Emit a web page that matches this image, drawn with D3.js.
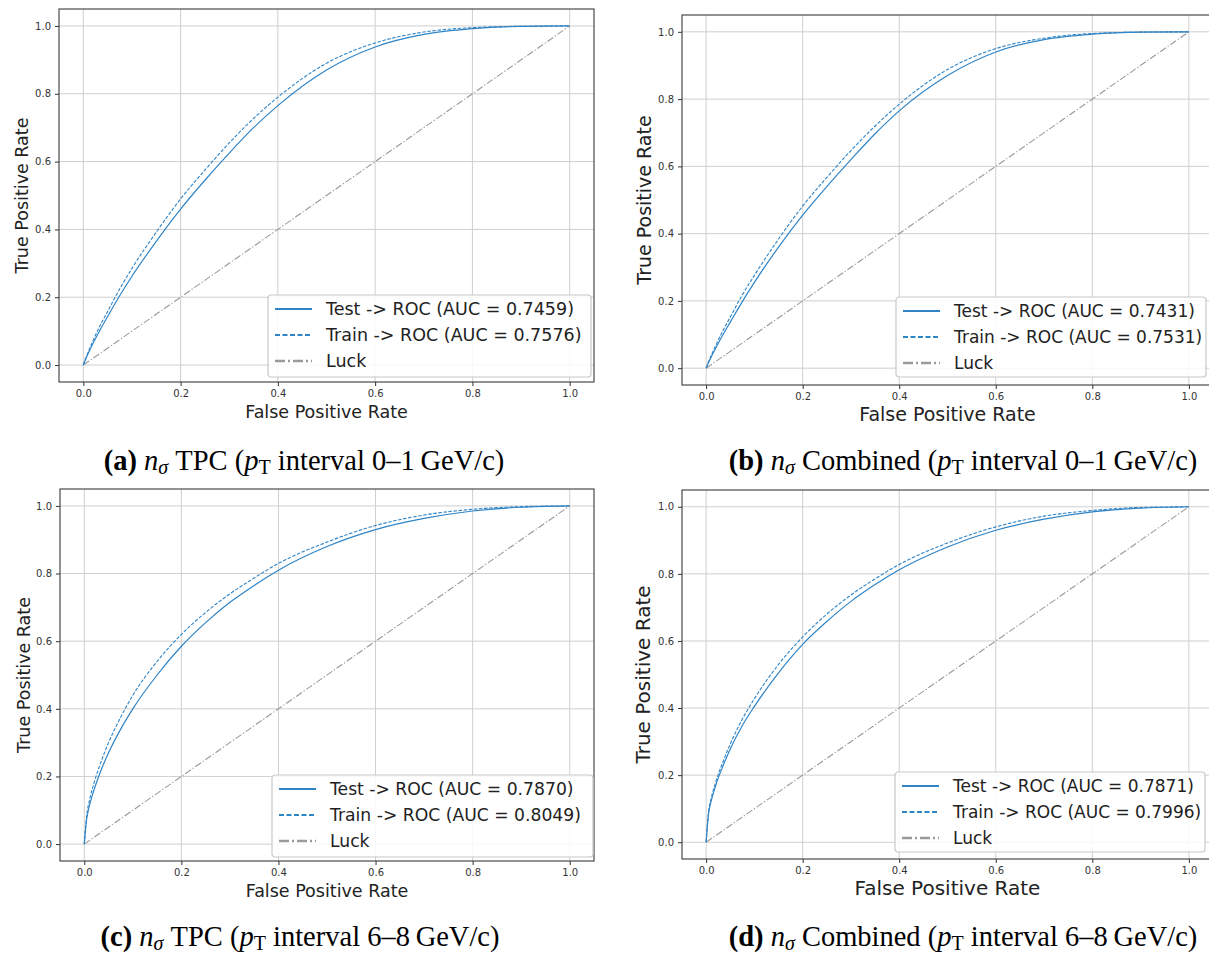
<!DOCTYPE html>
<html>
<head>
<meta charset="utf-8">
<script src="https://cdn.jsdelivr.net/npm/d3@7"></script>
<style>
  html, body { margin: 0; padding: 0; background: #fff; }
  svg { display: block; }
</style>
</head>
<body>
<div id="viz"></div>
<script>
// false positive rate sample points (shared by all curves)
const fpr = [0, 0.005, 0.01, 0.02, 0.035, 0.05, 0.075, 0.1, 0.15, 0.2, 0.25, 0.3, 0.35, 0.4, 0.5, 0.6, 0.7, 0.8, 0.9, 1];

// true positive rates
const tprTestA = [0, 0.018, 0.034, 0.064, 0.105, 0.143, 0.205, 0.262, 0.365, 0.46, 0.545, 0.625, 0.70, 0.765, 0.87, 0.938, 0.975, 0.992, 0.999, 1];
const tprTrainA = [0, 0.02, 0.038, 0.072, 0.118, 0.158, 0.225, 0.285, 0.392, 0.49, 0.575, 0.655, 0.727, 0.79, 0.89, 0.95, 0.982, 0.995, 0.999, 1];
const tprTestB = [0, 0.017, 0.032, 0.06, 0.10, 0.137, 0.198, 0.255, 0.36, 0.455, 0.54, 0.62, 0.697, 0.765, 0.87, 0.94, 0.977, 0.993, 0.999, 1];
const tprTrainB = [0, 0.019, 0.036, 0.068, 0.112, 0.152, 0.218, 0.276, 0.384, 0.482, 0.567, 0.647, 0.72, 0.785, 0.888, 0.95, 0.981, 0.995, 0.999, 1];
const tprTestC = [0, 0.075, 0.11, 0.16, 0.22, 0.27, 0.34, 0.40, 0.50, 0.585, 0.655, 0.715, 0.765, 0.81, 0.88, 0.93, 0.963, 0.985, 0.996, 1];
const tprTrainC = [0, 0.085, 0.125, 0.18, 0.245, 0.30, 0.375, 0.44, 0.54, 0.62, 0.685, 0.74, 0.787, 0.83, 0.893, 0.942, 0.973, 0.99, 0.998, 1];
const tprTestD = [0, 0.085, 0.12, 0.17, 0.228, 0.278, 0.348, 0.405, 0.505, 0.59, 0.658, 0.718, 0.768, 0.812, 0.88, 0.93, 0.963, 0.985, 0.996, 1];
const tprTrainD = [0, 0.09, 0.128, 0.18, 0.24, 0.293, 0.367, 0.428, 0.53, 0.612, 0.68, 0.737, 0.785, 0.828, 0.892, 0.94, 0.972, 0.989, 0.998, 1];

const luck = [0, 1];
const ticks = [0, 0.2, 0.4, 0.6, 0.8, 1.0];

const aucTest = ['0.7459', '0.7431', '0.7870', '0.7871'];
const aucTrain = ['0.7576', '0.7531', '0.8049', '0.7996'];

const captionLetters = ['a', 'b', 'c', 'd'];
const captionMethod = ['TPC', 'Combined', 'TPC', 'Combined'];
const captionInterval = ['0\u20131', '0\u20131', '6\u20138', '6\u20138'];

const BLUE = '#2f84c6';
const GREY = '#9a9a9a';

const panels = [
  { box: [59, 594, 9, 382], lab: 17.5, legFont: 17.5, leg: [268, 295, 323, 82], ylabX: 22, cap: [304, 470], test: tprTestA, train: tprTrainA },
  { box: [682, 1213, 15, 385], lab: 19, legFont: 17, leg: [896, 297, 310, 80], ylabX: 644, cap: [963, 470], test: tprTestB, train: tprTrainB },
  { box: [60, 594, 489, 861], lab: 17.5, legFont: 17.2, leg: [272, 775, 321, 82], ylabX: 24, cap: [300, 946], test: tprTestC, train: tprTrainC },
  { box: [682, 1213, 490, 859], lab: 20, legFont: 17, leg: [895, 772, 310, 80], ylabX: 643, cap: [963, 946], test: tprTestD, train: tprTrainD }
];

const width = 1209;
const height = 957;

const svg = d3.select('#viz')
  .append('svg')
  .attr('width', width)
  .attr('height', height)
  .attr('viewBox', `0 0 ${width} ${height}`);

panels.forEach((p, i) => {
  const [left, right, top, bottom] = p.box;
  const x = d3.scaleLinear().domain([-0.05, 1.05]).range([left, right]);
  const y = d3.scaleLinear().domain([-0.05, 1.05]).range([bottom, top]);

  const g = svg.append('g');
  const clipId = `clip${i}`;
  g.append('clipPath').attr('id', clipId)
    .append('rect')
    .attr('x', left).attr('y', top)
    .attr('width', right - left).attr('height', bottom - top);

  // grid
  g.append('g')
    .selectAll('line')
    .data(ticks)
    .join('line')
    .attr('x1', d => x(d)).attr('x2', d => x(d))
    .attr('y1', top).attr('y2', bottom)
    .attr('stroke', '#cfcfcf').attr('stroke-width', 1);
  g.append('g')
    .selectAll('line')
    .data(ticks)
    .join('line')
    .attr('y1', d => y(d)).attr('y2', d => y(d))
    .attr('x1', left).attr('x2', right)
    .attr('stroke', '#cfcfcf').attr('stroke-width', 1);

  // curves
  const line = d3.line()
    .x(d => x(d[0]))
    .y(d => y(d[1]))
    .curve(d3.curveMonotoneX);

  const plot = g.append('g').attr('clip-path', `url(#${clipId})`);
  plot.append('path')
    .datum(luck.map((v, k) => [v, luck[k]]))
    .attr('d', line)
    .attr('fill', 'none')
    .attr('stroke', GREY)
    .attr('stroke-width', 1.1)
    .attr('stroke-dasharray', '7,2,1.3,2');
  plot.append('path')
    .datum(fpr.map((v, k) => [v, p.train[k]]))
    .attr('d', line)
    .attr('fill', 'none')
    .attr('stroke', BLUE)
    .attr('stroke-width', 1.1)
    .attr('stroke-dasharray', '3.5,1.6');
  plot.append('path')
    .datum(fpr.map((v, k) => [v, p.test[k]]))
    .attr('d', line)
    .attr('fill', 'none')
    .attr('stroke', BLUE)
    .attr('stroke-width', 1.2);

  // axes
  const xAxis = d3.axisBottom(x).tickValues(ticks).tickFormat(d3.format('.1f')).tickSize(4).tickPadding(4);
  const yAxis = d3.axisLeft(y).tickValues(ticks).tickFormat(d3.format('.1f')).tickSize(4).tickPadding(4);

  const gx = g.append('g').attr('transform', `translate(0,${bottom})`).call(xAxis);
  const gy = g.append('g').attr('transform', `translate(${left},0)`).call(yAxis);
  [gx, gy].forEach(a => {
    a.select('.domain').remove();
    a.selectAll('.tick line').attr('stroke', '#333');
    a.selectAll('.tick text')
      .attr('fill', '#333')
      .style('font-family', 'DejaVu Sans')
      .style('font-size', '10px');
  });

  // frame
  g.append('rect')
    .attr('x', left).attr('y', top)
    .attr('width', right - left).attr('height', bottom - top)
    .attr('fill', 'none')
    .attr('stroke', '#3a3a3a')
    .attr('stroke-width', 1.1);

  // axis labels
  g.append('text')
    .attr('x', (left + right) / 2)
    .attr('y', bottom + 36)
    .attr('text-anchor', 'middle')
    .style('font-family', 'DejaVu Sans')
    .style('font-size', `${p.lab}px`)
    .attr('fill', '#222')
    .text('False Positive Rate');
  g.append('text')
    .attr('transform', `translate(${p.ylabX + p.lab * 0.36},${(top + bottom) / 2}) rotate(-90)`)
    .attr('text-anchor', 'middle')
    .style('font-family', 'DejaVu Sans')
    .style('font-size', `${p.lab}px`)
    .attr('fill', '#222')
    .text('True Positive Rate');

  // legend
  const [lx, ly, lw, lh] = p.leg;
  const legend = g.append('g').attr('transform', `translate(${lx},${ly})`);
  legend.append('rect')
    .attr('width', lw).attr('height', lh)
    .attr('rx', 3)
    .attr('fill', 'rgba(255,255,255,0.85)')
    .attr('stroke', '#c8c8c8')
    .attr('stroke-width', 1.2);
  const items = [
    { label: `Test -> ROC (AUC = ${aucTest[i]})`, color: BLUE, dash: null, w: 2 },
    { label: `Train -> ROC (AUC = ${aucTrain[i]})`, color: BLUE, dash: '5,2.5', w: 2 },
    { label: 'Luck', color: GREY, dash: '10,3,2,3', w: 2.6 }
  ];
  items.forEach((it, k) => {
    const cy = 14 + k * 26;
    legend.append('line')
      .attr('x1', 7).attr('x2', 44)
      .attr('y1', cy).attr('y2', cy)
      .attr('stroke', it.color)
      .attr('stroke-width', it.w)
      .attr('stroke-dasharray', it.dash);
    legend.append('text')
      .attr('x', 58)
      .attr('y', cy + 6)
      .style('font-family', 'DejaVu Sans')
      .style('font-size', `${p.legFont}px`)
      .attr('fill', '#222')
      .text(it.label);
  });

  // caption
  const cap = svg.append('text')
    .attr('x', p.cap[0])
    .attr('y', p.cap[1])
    .attr('text-anchor', 'middle')
    .style('font-family', 'Liberation Serif')
    .style('font-size', '28.5px')
    .attr('fill', '#000');
  cap.append('tspan').style('font-weight', 'bold').text(`(${captionLetters[i]}) `);
  cap.append('tspan').style('font-style', 'italic').text('n');
  cap.append('tspan').style('font-style', 'italic').style('font-size', '20px').attr('dy', 4).text('\u03c3');
  cap.append('tspan').attr('dy', -4).text(` ${captionMethod[i]} (`);
  cap.append('tspan').style('font-style', 'italic').text('p');
  cap.append('tspan').style('font-size', '20px').attr('dy', 4).text('T');
  cap.append('tspan').attr('dy', -4).text(` interval ${captionInterval[i]}\u2009GeV/c)`);
});
</script>
</body>
</html>
